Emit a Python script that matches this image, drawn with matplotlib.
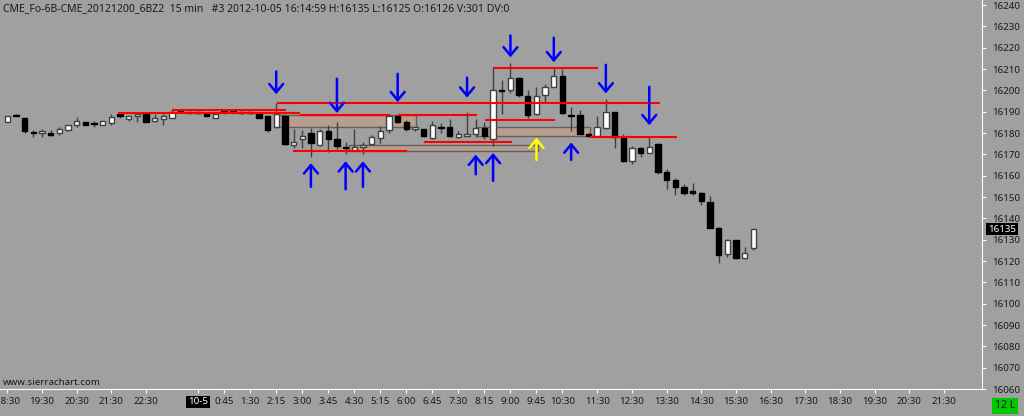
import matplotlib
matplotlib.use("Agg")
import matplotlib.pyplot as plt
from matplotlib.patches import Rectangle

plt.rcParams['font.family'] = ['Noto Sans', 'DejaVu Sans']

# 15 min bars, bar 0 = 18:30 on 10-4
opens = [16185, 16188, 16187, 16180, 16180, 16180, 16180, 16181.5, 16184, 16185,
         16184.3, 16184, 16184.5, 16189, 16186.5, 16188, 16189.5, 16185.5, 16186.5, 16187,
         16191, 16190, 16189.5, 16189.5, 16187, 16189.7, 16189.7, 16189.4, 16189.4, 16189.5,
         16188, 16183, 16188, 16174.5, 16177, 16180, 16174.5, 16181, 16177, 16173.7,
         16172, 16173.6, 16175, 16177.6, 16181.4, 16188, 16185, 16181.7, 16181.7, 16177.6,
         16182.5, 16182.8, 16178, 16178.7, 16179.7, 16182.5, 16177, 16200, 16200, 16206,
         16197.6, 16189, 16197.8, 16201.7, 16206.8, 16188.5, 16188.6, 16179.7, 16178.7, 16182.5,
         16189.7, 16178, 16166.7, 16172.8, 16170.6, 16174.8, 16161.8, 16158, 16154.8, 16152.8,
         16151.8, 16147.5, 16135.6, 16123.4, 16129.8, 16121.5, 16126]
highs = [16188, 16189, 16187, 16181.5, 16182, 16181.5, 16183, 16184, 16187.5, 16185,
         16185.5, 16185.5, 16189, 16189, 16188, 16189.5, 16189.5, 16189, 16189, 16191,
         16191, 16190, 16190, 16189.5, 16189, 16190.5, 16190.5, 16190, 16190, 16189.5,
         16188, 16194, 16188, 16182, 16181.5, 16182.5, 16182, 16184, 16185, 16176,
         16182, 16176, 16179, 16183.5, 16189, 16188.5, 16186, 16183, 16182, 16185.5,
         16184.8, 16186.6, 16181, 16189.7, 16186.6, 16185, 16210.5, 16205, 16213, 16206.5,
         16200, 16201.7, 16203, 16210.5, 16210, 16192, 16191, 16180, 16188, 16196,
         16190, 16179.7, 16174, 16173.5, 16178.7, 16175.5, 16163, 16159, 16156, 16156.7,
         16152.5, 16150.6, 16136, 16130.5, 16130, 16126.7, 16135]
lows = [16185, 16188, 16180, 16178, 16178, 16178.5, 16179, 16181, 16183, 16184,
        16183, 16184, 16184, 16187, 16185.5, 16185, 16185, 16185, 16184, 16187,
        16190, 16189.5, 16189, 16188, 16187, 16189, 16189, 16189, 16189, 16187,
        16180.5, 16182.5, 16174.5, 16173, 16173, 16169, 16174, 16171, 16172.5, 16170,
        16172, 16170, 16174.5, 16175.5, 16180, 16184.5, 16181, 16181, 16178, 16177,
        16180, 16178, 16177.6, 16178.5, 16178, 16177, 16174, 16189, 16199, 16197,
        16187, 16188.5, 16194, 16201.5, 16189, 16181, 16179.5, 16178.5, 16178.5, 16182,
        16173, 16166.5, 16165.5, 16169, 16170.5, 16161, 16154, 16151, 16150.8, 16151,
        16146.4, 16135.5, 16119, 16121.7, 16121, 16120.8, 16125]
closes = [16188, 16188, 16181, 16180, 16181, 16179, 16182, 16183.7, 16185.5, 16184,
          16184.3, 16185.5, 16187.5, 16188, 16188, 16189, 16185, 16187, 16188, 16190,
          16190, 16189.5, 16189.5, 16188, 16189, 16189.7, 16189.7, 16189.4, 16189.4, 16187,
          16181.5, 16189, 16175, 16176, 16178.6, 16175.5, 16181, 16177, 16174, 16172.8,
          16173.5, 16174.5, 16178, 16181, 16188, 16185, 16181.7, 16182.8, 16178.7, 16184,
          16182.5, 16178.7, 16179.7, 16179.7, 16182.5, 16178.7, 16200, 16199.5, 16206, 16198,
          16188.6, 16197.6, 16201.7, 16206.8, 16189.5, 16188, 16179.7, 16178.7, 16182.8, 16189.7,
          16178.2, 16166.7, 16172.8, 16170.6, 16173.6, 16161.8, 16158, 16154.8, 16151.8, 16151.8,
          16148, 16135.6, 16122.9, 16130, 16121.5, 16123.6, 16135]

tick_bars = [0, 4, 8, 12, 16, 22, 25, 28, 31, 34, 37, 40, 43, 46, 49, 52, 55, 58, 61, 64,
             68, 72, 76, 80, 84, 88, 92, 96, 100, 104, 108]
tick_labels = ["18:30", "19:30", "20:30", "21:30", "22:30", "10-5", "0:45", "1:30", "2:15",
               "3:00", "3:45", "4:30", "5:15", "6:00", "6:45", "7:30", "8:15", "9:00", "9:45",
               "10:30", "11:30", "12:30", "13:30", "14:30", "15:30", "16:30", "17:30", "18:30",
               "19:30", "20:30", "21:30"]
price_ticks = list(range(16060, 16250, 10))

# red levels (start bar, end bar, price)
red_start = [12.8, 19.0, 31.1, 33.7, 45.0, 55.1, 48.0, 32.9, 56.0, 67.2]
red_end = [33.7, 32.1, 75.2, 44.1, 54.1, 63.1, 58.2, 46.1, 68.1, 77.2]
red_price = [16189.4, 16190.6, 16194, 16188.6, 16188.6, 16186.3, 16176, 16171.8, 16210.6, 16178]

# shaded zones (start bar, end bar, low, high)
box_start = [31.2, 39.4, 54.1]
box_end = [47.1, 61.2, 67.2]
box_low = [16182.8, 16171.5, 16178.7]
box_high = [16188.6, 16174.5, 16182.8]

# arrows (bar, tail price, tip price)
down_bar = [31, 38, 45, 53, 58, 63, 69, 74]
down_tail = [16208.9, 16205.5, 16207.8, 16206, 16225.8, 16224.7, 16212, 16201.7]
down_tip = [16198.2, 16189.4, 16194.5, 16196.6, 16215.5, 16213.2, 16198.6, 16183.7]
up_bar = [35, 39, 41, 54, 56, 61, 65]
up_tail = [16154.8, 16153.6, 16154.8, 16160.7, 16157.6, 16167.4, 16167.4]
up_tip = [16165.9, 16166.8, 16166.8, 16169.9, 16170.7, 16177.9, 16175.6]
up_color = ['#0000ff', '#0000ff', '#0000ff', '#0000ff', '#0000ff', '#ffff00', '#0000ff']

bg = '#a0a0a0'
fig = plt.figure(figsize=(10.24, 4.16), dpi=100)
fig.patch.set_facecolor(bg)
ax = fig.add_axes([0, 27 / 416, 982 / 1024, 389 / 416])
ax.set_facecolor(bg)

for i in range(len(box_start)):
    ax.add_patch(Rectangle((box_start[i], box_low[i]), box_end[i] - box_start[i],
                           box_high[i] - box_low[i], facecolor='#b99d8d',
                           edgecolor='#606060', lw=1, zorder=1))

# candles
w = 0.62
for i in range(len(opens)):
    o, h, l, c = opens[i], highs[i], lows[i], closes[i]
    ax.vlines(i, l, h, color='#404040', lw=1, zorder=3)
    lo = min(o, c)
    hgt = max(abs(c - o), 0.45)
    if c > o:
        ax.bar(i, hgt, w, bottom=lo, color='white', edgecolor='#404040', lw=1, zorder=4)
    else:
        ax.bar(i, hgt, w, bottom=lo, color='black', edgecolor='black', lw=1, zorder=4)

ax.hlines(red_price, red_start, red_end, color='#ff0000', lw=1.5, zorder=5)

for i in range(len(down_bar)):
    ax.annotate('', xy=(down_bar[i], down_tip[i]), xytext=(down_bar[i], down_tail[i]),
                arrowprops=dict(arrowstyle='->,head_length=0.6,head_width=0.5',
                                color='#0000ff', lw=1.8, shrinkA=0, shrinkB=0), zorder=6)
for i in range(len(up_bar)):
    ax.annotate('', xy=(up_bar[i], up_tip[i]), xytext=(up_bar[i], up_tail[i]),
                arrowprops=dict(arrowstyle='->,head_length=0.6,head_width=0.5',
                                color=up_color[i], lw=1.8, shrinkA=0, shrinkB=0), zorder=6)

ax.set_xlim(-0.84, 112.36)
ax.set_ylim(16063.1, 16242.4)

ax.set_xticks(tick_bars)
ax.set_xticklabels(tick_labels)
ax.yaxis.tick_right()
ax.set_yticks(price_ticks)
ax.set_yticklabels([str(p) for p in price_ticks])
ax.tick_params(axis='both', colors='white', labelcolor='#1a1a1a', labelsize=7, length=3)
ax.tick_params(axis='x', pad=3)
ax.tick_params(axis='y', pad=4)
for lab in ax.get_xticklabels():
    if lab.get_text() == '10-5':
        lab.set_color('white')
        lab.set_bbox(dict(facecolor='black', edgecolor='none', pad=1.2))

for s in ['left', 'top']:
    ax.spines[s].set_visible(False)
for s in ['right', 'bottom']:
    ax.spines[s].set_color('white')

ax.text(1.006, 16135, '16135', transform=ax.get_yaxis_transform(), fontsize=7,
        color='white', va='center', ha='left', clip_on=False,
        bbox=dict(facecolor='black', edgecolor='none', pad=1.2))

ax.text(0.003, 0.977, 'CME_Fo-6B-CME_20121200_6BZ2  15 min   #3 2012-10-05 16:14:59 '
        'H:16135 L:16125 O:16126 V:301 DV:0', transform=ax.transAxes, fontsize=7.5,
        color='#1a1a1a', va='center', ha='left')
ax.text(0.003, 0.016, 'www.sierrachart.com', transform=ax.transAxes, fontsize=7,
        color='#1a1a1a', va='center', ha='left')
fig.text(1005 / 1024, 1 - 406 / 416, '12 L', fontsize=7.5, color='#1a1a1a',
         ha='center', va='center',
         bbox=dict(facecolor='#00c800', edgecolor='none', pad=2))

fig.savefig('out.png', dpi=100, facecolor=bg)
